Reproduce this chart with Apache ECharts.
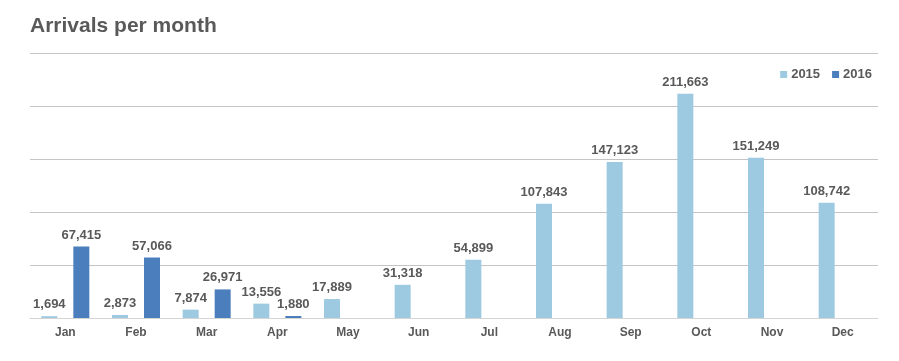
<!DOCTYPE html>
<html><head><meta charset="utf-8">
<script src="https://cdn.jsdelivr.net/npm/echarts@6/dist/echarts.min.js"></script>
<style>html,body{margin:0;padding:0;background:#fff}#c{width:899px;height:361px}</style>
</head><body><div id="c"></div>
<script>
var categories = ['Jan','Feb','Mar','Apr','May','Jun','Jul','Aug','Sep','Oct','Nov','Dec'];
var values2015 = [1694, 2873, 7874, 13556, 17889, 31318, 54899, 107843, 147123, 211663, 151249, 108742];
var values2016 = [67415, 57066, 26971, 1880, null, null, null, null, null, null, null, null];
var seriesNames = ['2015', '2016'];
var titleText = 'Arrivals per month';

var txt = '#595959';
var font = 'Arial, "Liberation Sans", sans-serif';
var chart = echarts.init(document.getElementById('c'), null, {renderer: 'canvas'});
var labelCfg = {
  show: true, position: 'top', distance: 5, color: txt, fontFamily: font,
  fontWeight: 'bold', fontSize: 13,
  formatter: function (p) { return p.value == null ? '' : p.value.toLocaleString('en-US'); }
};
chart.setOption({
  animation: false,
  textStyle: {fontFamily: font},
  title: {text: titleText, left: 25, top: 11,
    textStyle: {color: txt, fontFamily: font, fontWeight: 'bold', fontSize: 21}},
  legend: {right: 22, top: 63, itemWidth: 7, itemHeight: 7, itemGap: 12, icon: 'rect',
    textStyle: {color: txt, fontFamily: font, fontWeight: 'bold', fontSize: 13, padding: [0,0,0,-1]},
    data: seriesNames},
  grid: {left: 30, right: 21, top: 53, bottom: 43},
  xAxis: {type: 'category', data: categories,
    axisLine: {lineStyle: {color: '#d4d4d4', width: 1}},
    axisTick: {show: false},
    axisLabel: {color: txt, fontFamily: font, fontWeight: 'bold', fontSize: 12, margin: 9}},
  yAxis: {type: 'value', min: 0, max: 250000, interval: 50000,
    axisLabel: {show: false}, axisLine: {show: false}, axisTick: {show: false},
    splitLine: {lineStyle: {color: '#c4c4c4', width: 1}}},
  series: [
    {name: seriesNames[0], type: 'bar', data: values2015, barWidth: 16, barGap: '100%',
      itemStyle: {color: '#9dcae1'}, label: labelCfg},
    {name: seriesNames[1], type: 'bar', data: values2016, barWidth: 16,
      itemStyle: {color: '#4b7ebc'}, label: labelCfg}
  ]
});
</script></body></html>
